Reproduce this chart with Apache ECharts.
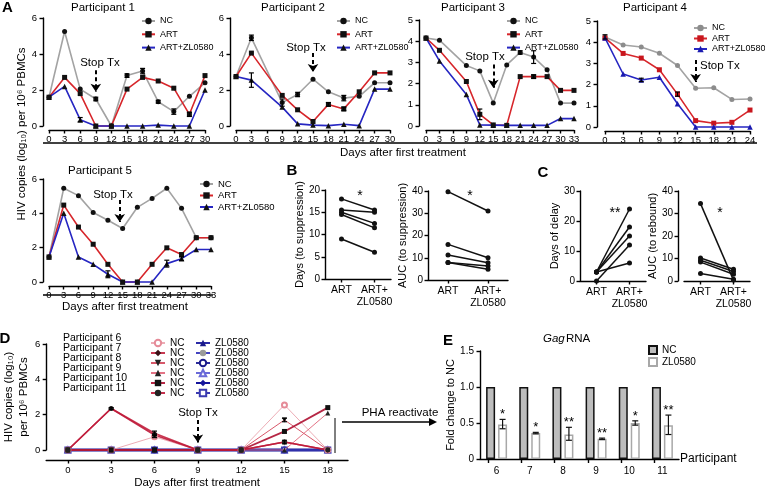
<!DOCTYPE html>
<html><head><meta charset="utf-8">
<script src="https://cdn.jsdelivr.net/npm/echarts@6/dist/echarts.min.js"></script>
<style>html,body{margin:0;padding:0;background:#fff}#c{width:765px;height:494px}</style>
</head><body><div id="c"></div>
<script>
// ================= DATA =================
// Panel A
const daysA1 = [0,3,6,9,12,15,18,21,24,27,30];
const a1NC  = [1.6,5.25,2.05,1.5,0,2.8,3.05,1.35,0.8,1.65,2.4];
const a1ART = [1.6,2.7,1.8,0,0,2.05,2.7,2.5,2.1,0.65,2.8];
const a1ZL  = [1.6,2.2,0.35,0,0,0,0,0.05,0,0,2.0];
const a1Err = [[15,2.8,0.1],[18,3.05,0.15],[21,1.35,0.08],[24,0.8,0.15],[27,0.65,0.12],[6,0.35,0.12],[9,1.5,0.1]];

const daysA2 = [0,3,6,9,12,15,18,21,24,27,30];
const a2NC  = [2.75,4.9,null,1.3,1.75,2.6,1.9,1.55,1.65,2.4,2.4];
const a2ART = [2.75,4.05,null,1.7,0.9,0.25,1.2,0.95,1.9,2.95,2.95];
const a2ZL  = [2.75,2.55,null,1.05,0.12,0.05,0.02,0.1,0.02,2.05,2.05];
const a2Err = [[3,4.9,0.15],[3,2.55,0.4],[9,1.3,0.2],[12,1.75,0.12],[21,1.55,0.15],[18,1.2,0.1],[21,0.95,0.1]];

const daysA3 = [0,3,6,9,12,15,18,21,24,27,30,33];
const a3NC  = [4.15,4.05,null,2.85,2.6,1.08,2.88,3.47,3.25,2.65,1.08,1.08];
const a3ART = [4.15,3.57,null,2.1,0.55,0.05,0.03,2.33,2.33,2.33,1.68,1.68];
const a3ZL  = [4.15,3.07,null,1.48,0.05,0.04,0.03,0.03,0.03,0.03,0.35,0.35];
const a3Err = [[12,0.55,0.25],[21,3.47,0.08],[24,3.25,0.3],[24,2.33,0.08]];

const daysA4 = [0,3,6,9,12,15,18,21,24];
const a4NC  = [4.25,3.87,3.77,3.48,2.9,1.83,1.85,1.3,1.32];
const a4ART = [4.2,3.47,3.25,2.7,1.55,0.3,0.18,0.22,0.8];
const a4ZL  = [4.2,2.5,2.22,2.35,1.1,0,0,0,0];
const a4Err = [[6,2.22,0.08],[12,1.55,0.1],[0,4.25,0.1]];

const daysA5 = [0,3,6,9,12,15,18,21,24,27,30,33];
const a5NC  = [1.46,5.46,5.03,4.05,3.6,3.12,4.35,4.87,5.46,4.29,2.58,2.58];
const a5ART = [1.46,4.48,3.2,2.2,1.03,0,0,1.03,1.99,1.6,2.58,2.58];
const a5ZL  = [1.46,4.0,1.46,1.03,0.45,0,0,0,1.07,1.36,1.89,1.89];
const a5Err = [[12,0.45,0.2],[24,1.07,0.2],[27,1.36,0.1]];

// Panels B / C (one value per participant 1-5)
const pairCats = ['ART','ART+\nZL0580'];
const bDaysART = [18,15.5,15,14.5,9];
const bDaysZL  = [15.5,15,12.5,11.5,6];
const bAucART  = [39.7,16,11.2,7.9,7.9];
const bAucZL   = [31,10,7.8,6.3,4.8];
const cDelayART = [3,3,3,0,3];
const cDelayZL  = [24,18,15,12,6];
const cAucART   = [34.4,10.2,9.2,8.4,3.3];
const cAucZL    = [0.4,5.2,4.2,3.0,0.8];

// Panel D
const daysD = [0,3,6,9,12,15,18];
const dNames = ['Participant 6','Participant 7','Participant 8','Participant 9','Participant 10','Participant 11'];
const d6NC  = [0,0,0.75,0,0,2.55,0];
const d7NC  = [0,2.35,0.95,0,0,0.45,0];
const d8NC  = [0,0,0,0,0,1.7,0];
const d9NC  = [0,0,0,0,0,0,2.1];
const d10NC = [0,0,0,0,0,1.05,2.4];
const d11NC = [0,2.35,0.85,0,0,0.45,0];
const d6ZL  = [0,0,0,0,0,0,0];
const d7ZL  = [0,0,0,0,0,0,0];
const d8ZL  = [0,0,0,0,0,0,0];
const d9ZL  = [0,0,0,0,0,0,0];
const d10ZL = [0,0,0,0,0,0,0];
const d11ZL = [0,0,0,0,0,0,0];
const dErr = [[3,2.35,0.05],[6,0.95,0.12],[6,0.8,0.1],[15,1.7,0.1],[15,0.45,0.1]];

// Panel E
const eCats = ['6','7','8','9','10','11'];
const eNC = [1,1,1,1,1,1];
const eZL = [0.48,0.36,0.34,0.28,0.5,0.47];
const eZLlow  = [0.42,0.35,0.26,0.27,0.47,0.34];
const eZLhigh = [0.55,0.37,0.44,0.29,0.53,0.61];
const eStars = ['*','*','**','**','*','**'];

// ================= CHART =================
const F = "'Liberation Sans', Arial, Helvetica, sans-serif";
const GRAY = '#a3a3a3', RED = '#d7262b', BLUE = '#2626c2';

const grids = [
  {left:49, top:18, width:156, height:108},
  {left:236, top:18, width:154, height:108},
  {left:426, top:20, width:148, height:106},
  {left:605, top:21, width:145, height:106},
  {left:49, top:179, width:162, height:103},
  {left:325, top:190, width:66, height:89},
  {left:428, top:191, width:80, height:89},
  {left:580, top:191, width:66, height:90},
  {left:684, top:191, width:66, height:90},
  {left:45, top:344, width:303, height:106},
  {left:480, top:351, width:199, height:108}
];

function axisBase(o){
  const a = {
    axisLine:{show:true, onZero:false, lineStyle:{color:'#000', width:1.4}},
    axisTick:{show:true, length:3.5, lineStyle:{color:'#000', width:1.4}},
    axisLabel:{color:'#000', fontFamily:F, fontSize:9.5},
    splitLine:{show:false}
  };
  for (const k in o){
    if (a[k] && typeof o[k]==='object' && !Array.isArray(o[k])) a[k] = Object.assign({}, a[k], o[k]);
    else a[k] = o[k];
  }
  return a;
}

const xAxis = [], yAxis = [], series = [];

// ---- Panel A
const aPanels = [
  {days:daysA1, nc:a1NC, art:a1ART, zl:a1ZL, err:a1Err, max:6, step:2, xmax:30, yoff:6, arrow:[9,3.1,1.9], colored:false},
  {days:daysA2, nc:a2NC, art:a2ART, zl:a2ZL, err:a2Err, max:6, step:2, xmax:30, yoff:6, arrow:[15,4.05,3.0], colored:false},
  {days:daysA3, nc:a3NC, art:a3ART, zl:a3ZL, err:a3Err, max:5, step:1, xmax:33, yoff:7, arrow:[15,2.9,1.8], colored:false},
  {days:daysA4, nc:a4NC, art:a4ART, zl:a4ZL, err:a4Err, max:5, step:1, xmax:24, yoff:8, arrow:[15,3.16,2.12], colored:true},
  {days:daysA5, nc:a5NC, art:a5ART, zl:a5ZL, err:a5Err, max:6, step:2, xmax:33, yoff:6, arrow:[14.4,4.78,3.5], colored:false}
];

function errRender(params, api){
  const x = api.value(0), y = api.value(1), e = api.value(2);
  const t = api.coord([x, y+e]), b = api.coord([x, y-e]);
  const w = 2.5, st = {stroke:'#000', lineWidth:1.2};
  return {type:'group', children:[
    {type:'line', shape:{x1:t[0],y1:t[1],x2:b[0],y2:b[1]}, style:st},
    {type:'line', shape:{x1:t[0]-w,y1:t[1],x2:t[0]+w,y2:t[1]}, style:st},
    {type:'line', shape:{x1:b[0]-w,y1:b[1],x2:b[0]+w,y2:b[1]}, style:st}
  ]};
}

function pts(days, vals){ return days.map((d,i)=>[d, vals[i]]).filter(p=>p[1]!==null); }

function stopArrow(c){
  return {silent:true, animation:false, symbol:['none','arrow'], symbolSize:8,
    label:{show:false}, emphasis:{disabled:true},
    lineStyle:{color:'#000', width:2, type:[4,3]},
    data:[[{coord:[c[0],c[1]]},{coord:[c[0],c[2]]}]]};
}

aPanels.forEach((p,i)=>{
  xAxis.push(axisBase({gridIndex:i, type:'value', min:0, max:p.xmax, interval:3, offset:4,
    axisLabel:{margin:4}}));
  yAxis.push(axisBase({gridIndex:i, type:'value', min:0, max:p.max, interval:p.step, offset:p.yoff,
    axisLabel:{margin:6}}));
  const mk = (c)=> p.colored ? c : '#111';
  const common = {type:'line', xAxisIndex:i, yAxisIndex:i, clip:false, animation:false, symbolKeepAspect:true};
  series.push(Object.assign({}, common, {name:'NC', data:pts(p.days,p.nc), symbol:'circle', symbolSize:5,
    lineStyle:{color:GRAY, width:1.6}, itemStyle:{color:mk('#8c8c8c')}, markLine:stopArrow(p.arrow)}));
  series.push(Object.assign({}, common, {name:'ART', data:pts(p.days,p.art), symbol:'rect', symbolSize:5,
    lineStyle:{color:RED, width:1.6}, itemStyle:{color:mk('#c8161d')}}));
  series.push(Object.assign({}, common, {name:'ART+ZL0580', data:pts(p.days,p.zl), symbol:'triangle', symbolSize:5.5,
    lineStyle:{color:BLUE, width:1.6}, itemStyle:{color:mk('#1a1ab0')}}));
  series.push({type:'custom', xAxisIndex:i, yAxisIndex:i, data:p.err, renderItem:errRender, encode:{x:0,y:1}, silent:true, z:5});
});

// ---- Panels B / C
const pairPanels = [
  {a:bDaysART, b:bDaysZL, max:20, step:5, name:'Days (to suppression)', gap:17, yoff:0},
  {a:bAucART, b:bAucZL, max:40, step:10, name:'AUC (to suppression)', gap:12, yoff:0},
  {a:cDelayART, b:cDelayZL, max:30, step:10, name:'Days of delay', gap:14, yoff:0},
  {a:cAucART, b:cAucZL, max:40, step:10, name:'AUC (to rebound)', gap:9, yoff:6}
];
pairPanels.forEach((p,k)=>{
  const gi = 5+k;
  xAxis.push(axisBase({gridIndex:gi, type:'category', data:pairCats, boundaryGap:true,
    axisTick:{alignWithLabel:true}, axisLabel:{fontSize:10.5, lineHeight:12, margin:5, interval:0}}));
  yAxis.push(axisBase({gridIndex:gi, type:'value', min:0, max:p.max, interval:p.step, offset:p.yoff,
    axisLabel:{margin:5, fontSize:10}, name:p.name, nameLocation:'middle', nameGap:p.gap,
    nameTextStyle:{color:'#000', fontFamily:F, fontSize:11}}));
  p.a.forEach((v,j)=>{
    series.push({type:'line', xAxisIndex:gi, yAxisIndex:gi, data:[p.a[j], p.b[j]], symbol:'circle', symbolSize:5,
      clip:false, animation:false, lineStyle:{color:'#111', width:1.5}, itemStyle:{color:'#111'}});
  });
});

// ---- Panel D
xAxis.push(axisBase({gridIndex:9, type:'value', min:-1.5, max:19.4, offset:10,
  axisLabel:{margin:5, fontSize:9.5, customValues:daysD}, axisTick:{customValues:daysD},
  name:'Days after first treatment', nameLocation:'middle', nameGap:17,
  nameTextStyle:{color:'#000', fontFamily:F, fontSize:11.5}}));
yAxis.push(axisBase({gridIndex:9, type:'value', min:0, max:6, interval:2,
  axisLabel:{margin:6}, name:'HIV copies (log\u2081\u2080)\nper 10\u2076 PBMCs', nameLocation:'middle', nameGap:11,
  nameTextStyle:{color:'#000', fontFamily:F, fontSize:11.5, lineHeight:15}}));
const dNC = [d6NC,d7NC,d8NC,d9NC,d10NC,d11NC];
const dZL = [d6ZL,d7ZL,d8ZL,d9ZL,d10ZL,d11ZL];
const dNCcol = ['#eaa3ad','#c3243f','#d3465a','#e06478','#ae1031','#bf1a3a'];
const dNCsym = ['emptyCircle','diamond','path://M0,0L10,0L5,9Z','triangle','rect','circle'];
const dNCmk = ['#e58b98','#3a1016','#222','#222','#111','#222'];
const dNCw = [1,1.6,1,1,1.8,1.6];
const dZLcol = ['#2a2aa6','#4343c0','#2b2b9a','#6a6ad8','#14149c','#3a3ab0'];
const dZLsym = ['triangle','circle','emptyCircle','emptyTriangle','diamond','emptyRect'];
const dZLmk = ['#1a1a8a','#9a9a9a','#1a1a8a','#6a6ad8','#14149c','#3a3ab0'];
const dZLw = [1.5,2,1.5,1.5,3,1.5];
dZL.forEach((v,j)=>{
  series.push({type:'line', name:'P'+(j+6)+' ZL0580', xAxisIndex:9, yAxisIndex:9, data:pts(daysD,v),
    symbol:dZLsym[j], symbolSize:5, clip:false, animation:false,
    lineStyle:{color:dZLcol[j], width:dZLw[j]}, itemStyle:{color:dZLmk[j]}, z:2});
});
dNC.forEach((v,j)=>{
  series.push({type:'line', name:'P'+(j+6)+' NC', xAxisIndex:9, yAxisIndex:9, data:pts(daysD,v),
    symbol:dNCsym[j], symbolSize:5, clip:false, animation:false,
    lineStyle:{color:dNCcol[j], width:dNCw[j], opacity:0.9}, itemStyle:{color:dNCmk[j]}, z:3,
    markLine: j===0 ? stopArrow([9,1.7,0.42]) : undefined});
});
series.push({type:'custom', xAxisIndex:9, yAxisIndex:9, data:dErr, renderItem:errRender, encode:{x:0,y:1}, silent:true, z:5});

// ---- Panel E
const BAR_OFF = 6;
xAxis.push(axisBase({gridIndex:10, type:'category', data:eCats, boundaryGap:true,
  axisTick:{show:false}, axisLabel:{margin:7, fontSize:10, interval:0},
  name:'Participant', nameLocation:'end', nameGap:1,
  nameTextStyle:{color:'#000', fontFamily:F, fontSize:12, align:'left', padding:[22,0,0,0]}}));
yAxis.push(axisBase({gridIndex:10, type:'value', min:0, max:1.5, interval:0.5,
  axisLabel:{margin:6, fontSize:10, formatter:v=> v===0 ? '0' : v.toFixed(1)},
  name:'Fold change to NC', nameLocation:'middle', nameGap:16,
  nameTextStyle:{color:'#000', fontFamily:F, fontSize:11}}));
// secondary tick-only axis (one tick under each bar)
xAxis.push({gridIndex:10, type:'category', data:eCats.flatMap(c=>[c+'a', c+'b']), boundaryGap:true, position:'bottom',
  axisLine:{show:false}, axisLabel:{show:false}, splitLine:{show:false},
  axisTick:{show:true, alignWithLabel:true, length:4, lineStyle:{color:'#000', width:1.4}}});
const eXi = 11 - 1; // main E x axis index = 10
series.push({type:'bar', name:'E-NC', xAxisIndex:10, yAxisIndex:10, data:eNC, barWidth:9, barGap:'33%', animation:false,
  itemStyle:{color:'#bdbdbd', borderColor:'#111', borderWidth:1.5}});
series.push({type:'bar', name:'E-ZL0580', xAxisIndex:10, yAxisIndex:10, data:eZL, barWidth:9, barGap:'33%', animation:false,
  itemStyle:{color:'#ffffff', borderColor:'#a8a8a8', borderWidth:1.5}});
series.push({type:'custom', xAxisIndex:10, yAxisIndex:10, silent:true, z:5,
  data:eCats.map((c,i)=>[i, eZLlow[i], eZLhigh[i]]), encode:{x:0, y:[1,2]},
  renderItem:(params, api)=>{
    const i = api.value(0);
    const lo = api.coord([i, api.value(1)]), hi = api.coord([i, api.value(2)]);
    const x = lo[0] + BAR_OFF, w = 3, st = {stroke:'#111', lineWidth:1.2};
    return {type:'group', children:[
      {type:'line', shape:{x1:x,y1:lo[1],x2:x,y2:hi[1]}, style:st},
      {type:'line', shape:{x1:x-w,y1:lo[1],x2:x+w,y2:lo[1]}, style:st},
      {type:'line', shape:{x1:x-w,y1:hi[1],x2:x+w,y2:hi[1]}, style:st},
      {type:'text', style:{text:eStars[params.dataIndex], x:x, y:hi[1]+2, align:'center', verticalAlign:'bottom',
        textAlign:'center', textVerticalAlign:'bottom', font:'13px '+F, fill:'#000'}}
    ]};
  }});

// ---- Legends
const lgText = (s)=>({color:'#000', fontFamily:F, fontSize:s, lineHeight:10});
const legendA = (left, top, gap, size, data)=>({orient:'vertical', left, top, itemGap:gap, itemWidth:13, itemHeight:8,
  textStyle:lgText(size), selectedMode:false, data: data || ['NC','ART','ART+ZL0580']});
const legends = [
  legendA(136, 11, 3.3, 9),
  legendA(331, 11, 3.3, 9),
  legendA(501, 11, 3.3, 9),
  legendA(688, 18, 0.5, 9, [
    {name:'NC', itemStyle:{color:'#8c8c8c'}},
    {name:'ART', itemStyle:{color:'#c8161d'}},
    {name:'ART+ZL0580', itemStyle:{color:'#1a1ab0'}}]),
  legendA(194, 174, 1.5, 9.5),
  {orient:'vertical', left:145, top:333, itemGap:0, itemWidth:14, itemHeight:8, textStyle:lgText(10), selectedMode:false,
    data: dNC.map((v,j)=>'P'+(j+6)+' NC'), formatter:n=>n.split(' ')[1]},
  {orient:'vertical', left:190, top:333, itemGap:0, itemWidth:14, itemHeight:8, textStyle:lgText(10), selectedMode:false,
    data: dZL.map((v,j)=>'P'+(j+6)+' ZL0580'), formatter:n=>n.split(' ')[1]},
  {orient:'vertical', left:643, top:340, itemGap:2, itemWidth:8, itemHeight:8, icon:'rect', textStyle:lgText(10), selectedMode:false,
    data:['E-NC','E-ZL0580'], formatter:n=>n.replace('E-','')}
];

// ---- Annotations (text, lines)
function T(text, x, y, o){
  o = o || {};
  const font = (o.italic?'italic ':'') + (o.bold?'bold ':'') + (o.size||11.5) + 'px ' + F;
  return {type:'text', x, y, rotation:o.rot||0, silent:true, z:100,
    style:{text, font, fill:'#000', align:o.align||'center', verticalAlign:'middle',
      textAlign:o.align||'center', textVerticalAlign:'middle'}};
}
function L(x1,y1,x2,y2,w){ return {type:'line', silent:true, z:100, shape:{x1,y1,x2,y2}, style:{stroke:'#000', lineWidth:w||1.2}}; }

const graphic = [
  T('A', 2, 8, {bold:true, size:15, align:'left'}),
  T('Participant 1', 103, 8), T('Participant 2', 293, 8), T('Participant 3', 473, 8), T('Participant 4', 655, 8),
  T('Participant 5', 100, 171),
  T('Stop Tx', 100, 63, {size:11.5}), T('Stop Tx', 306, 48, {size:11.5}), T('Stop Tx', 485, 57, {size:11.5}),
  T('Stop Tx', 700, 66, {size:11.5, align:'left'}), T('Stop Tx', 113, 195, {size:11.5}), T('Stop Tx', 198, 413, {size:11.5}),
  L(43,143,757,143,1.3), T('Days after first treatment', 403, 153),
  L(43,295,213,295,1.3), T('Days after first treatment', 125, 307),
  T('HIV copies (log\u2081\u2080) per 10\u2076 PBMCs', 22, 134, {rot:Math.PI/2, size:11.5}),
  T('B', 292, 171, {bold:true, size:15}), T('C', 543, 173, {bold:true, size:15}),
  T('D', 5, 339, {bold:true, size:15}), T('E', 448, 341, {bold:true, size:15}),
  T('*', 360, 196, {size:14}), T('*', 470, 196, {size:14}), T('**', 615, 213, {size:14}), T('*', 720, 213, {size:14}),
  L(335,418,335,453,1), T('PHA reactivate', 400, 413),
  L(342,422,430,422,1.6), {type:'polygon', silent:true, z:100, shape:{points:[[429,418],[437,422],[429,426]]}, style:{fill:'#000'}},
  T('Gag', 543, 339, {italic:true, size:11.5, align:'left'}), T('RNA', 566, 339, {size:11.5, align:'left'})
];
dNames.forEach((n,j)=> graphic.push(T(n, 63, 338+10*j, {size:10.5, align:'left'})));

const chart = echarts.init(document.getElementById('c'), null, {renderer:'canvas'});
chart.setOption({
  animation:false,
  backgroundColor:'#fff',
  textStyle:{fontFamily:F},
  grid:grids, xAxis, yAxis, series, legend:legends, graphic
});
</script></body></html>
